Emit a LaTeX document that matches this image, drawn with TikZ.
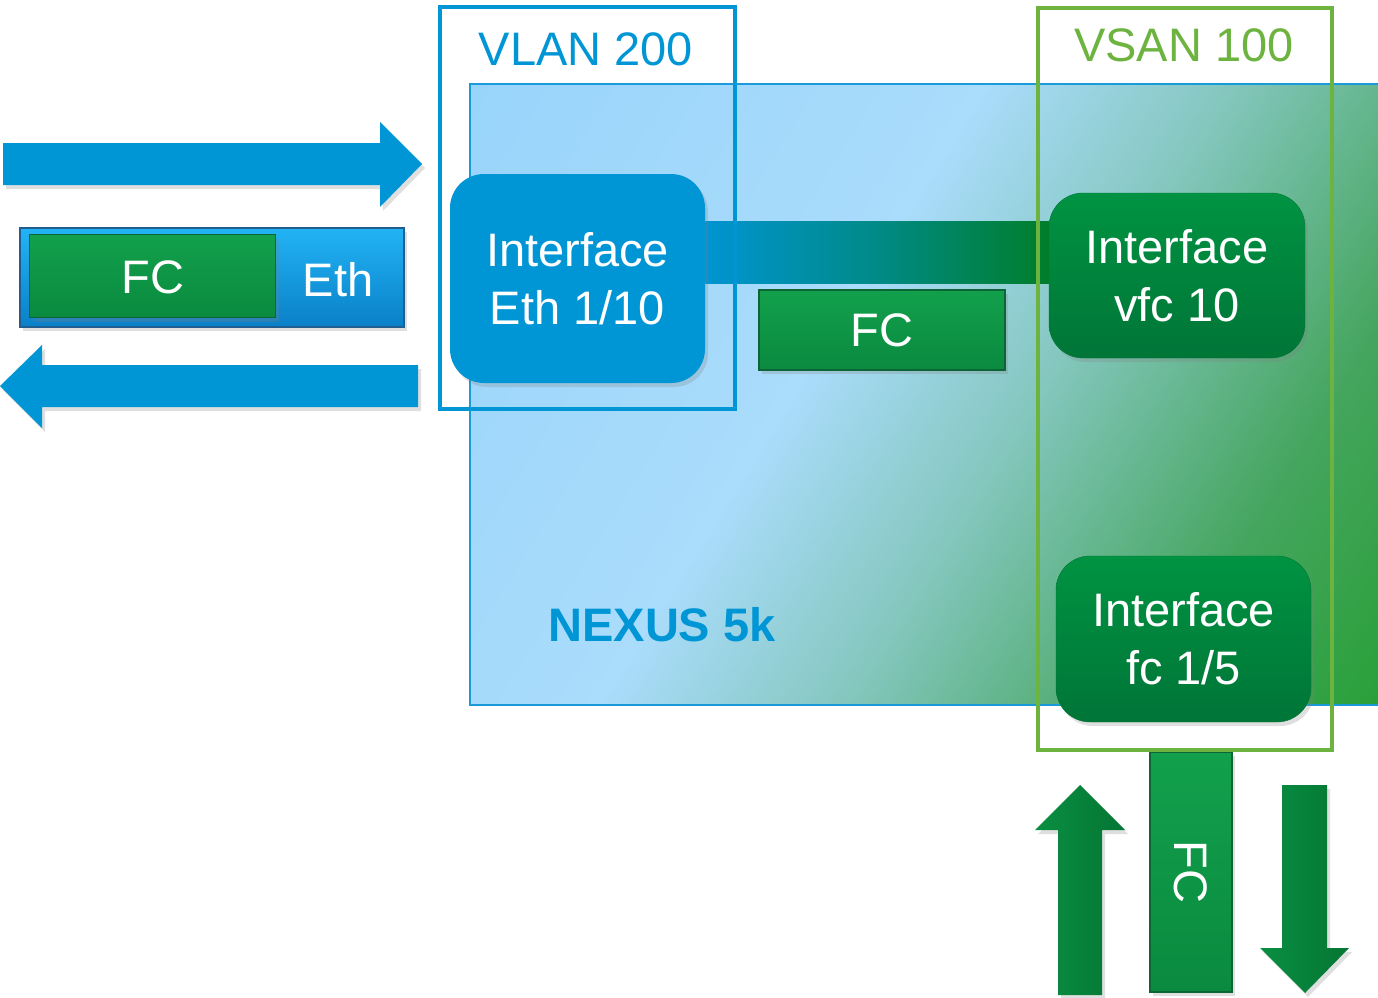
\documentclass[tikz,border=0pt]{standalone}
\usepackage{fontspec}
\setmainfont{Liberation Sans}
\usetikzlibrary{shadows}
\definecolor{cblue}{HTML}{0096D6}
\definecolor{vsan}{HTML}{6DB33F}
\definecolor{nxA}{HTML}{8FD0FB}
\definecolor{nxB}{HTML}{AADCFB}
\definecolor{nxC}{HTML}{84C7BE}
\definecolor{nxD}{HTML}{45A55E}
\definecolor{nxE}{HTML}{079A0C}
\definecolor{nxedge}{HTML}{1A9AD8}
\definecolor{gboxT}{HTML}{009342}
\definecolor{gboxB}{HTML}{007537}
\definecolor{fcT}{HTML}{12A04C}
\definecolor{fcB}{HTML}{0A8A3F}
\definecolor{fcEdge}{HTML}{0D6435}
\definecolor{bandA}{HTML}{0094D2}
\definecolor{bandB}{HTML}{007E2A}
\definecolor{barT}{HTML}{22B4F5}
\definecolor{barB}{HTML}{0A80C8}
\definecolor{barEdge}{HTML}{1F5E8E}
\definecolor{garL}{HTML}{0A8E42}
\definecolor{garR}{HTML}{047633}
\pgfdeclarehorizontalshading{nexus}{100bp}{color(0bp)=(nxA); color(43bp)=(nxB); color(56bp)=(nxC); color(72bp)=(nxD); color(100bp)=(nxE)}
\pgfdeclarelayer{bg}
\pgfdeclarelayer{fg}
\pgfsetlayers{bg,main,fg}
\begin{document}
\begin{tikzpicture}[x=1pt,y=-1pt,
  every node/.style={font=\fontsize{47}{58}\selectfont, inner sep=0pt},
  softshadow/.style={drop shadow={opacity=0.25, shadow xshift=3pt, shadow yshift=-4pt}},
  bluebox/.style={fill=cblue, rounded corners=34pt, text=white, align=center, softshadow},
  greenbox/.style={top color=gboxT, bottom color=gboxB, draw=gboxB, rounded corners=34pt, text=white, align=center, softshadow},
  fcbox/.style={top color=fcT, bottom color=fcB, draw=fcEdge, line width=1.2pt, text=white, softshadow},
  frame/.style={line width=4pt}]
\useasboundingbox (0,0) rectangle (1378,998);

% main boxes
\node (eth) [bluebox, minimum width=255pt, minimum height=209pt] at (577.5,278.5) {Interface\\Eth 1/10};
\node (vfc) [greenbox, minimum width=256pt, minimum height=165pt] at (1177,275.5) {Interface\\vfc 10};
\node (fcif) [greenbox, minimum width=255pt, minimum height=166pt] at (1183.5,639) {Interface\\fc 1/5};
\node (fcmid) [fcbox, minimum width=246pt, minimum height=80pt] at (882,330) {FC};

% nexus background and band
\begin{pgfonlayer}{bg}
\node (nexus) [draw=nxedge, line width=2pt, shading=nexus, shading angle=-32, minimum width=909pt, minimum height=621pt, anchor=north west] at (469,83) {};
\path[left color=bandA, right color=bandB, middle color=bandA!55!bandB] (eth.east |- 0,221) rectangle (vfc.west |- 0,283);
\end{pgfonlayer}

\node (nexuslbl) [text=cblue, font=\fontsize{47}{58}\bfseries] at (662,625) {NEXUS 5k};

% frames
\begin{pgfonlayer}{fg}
\node (vlan) [draw=cblue, frame, minimum width=295pt, minimum height=402pt, anchor=north west] at (438,5) {};
\node (vlanlbl) [text=cblue] at (586,49) {VLAN 200};
\node (vsanf) [draw=vsan, frame, minimum width=294pt, minimum height=742pt, anchor=north west] at (1036,6) {};
\node (vsanlbl) [text=vsan] at (1184,45) {VSAN 100};
\end{pgfonlayer}

% left FC/Eth bar
\node (bar) [top color=barT, bottom color=barB, draw=barEdge, line width=1.5pt, minimum width=384pt, minimum height=99pt, anchor=north west, softshadow] at (19,227) {};
\node (barfc) [fcbox, minimum width=246pt, minimum height=83pt, anchor=north west] at (29,234) {};
\node (barfclbl) [text=white] at (153,277) {FC};
\node (barethlbl) [text=white] at (338,280) {Eth};

% blue arrows
\fill[cblue, softshadow] (3,143) -- (380,143) -- (380,122) -- (422,164) -- (380,207) -- (380,185) -- (3,185) -- cycle;
\fill[cblue, softshadow] (418,365) -- (42,365) -- (42,345) -- (0,386) -- (42,428) -- (42,407) -- (418,407) -- cycle;

% vertical FC bar
\node (fcv) [fcbox, rotate=-90, minimum width=240pt, minimum height=82pt] at (1191,872) {FC};

% green arrows
\shade[left color=garL, right color=garR, softshadow] (1058,995) -- (1058,830) -- (1035,830) -- (1080,785) -- (1125,830) -- (1102,830) -- (1102,995) -- cycle;
\shade[left color=garL, right color=garR, softshadow] (1282,785) -- (1327,785) -- (1327,948) -- (1349,948) -- (1305,993) -- (1260,948) -- (1282,948) -- cycle;
\end{tikzpicture}
\end{document}
